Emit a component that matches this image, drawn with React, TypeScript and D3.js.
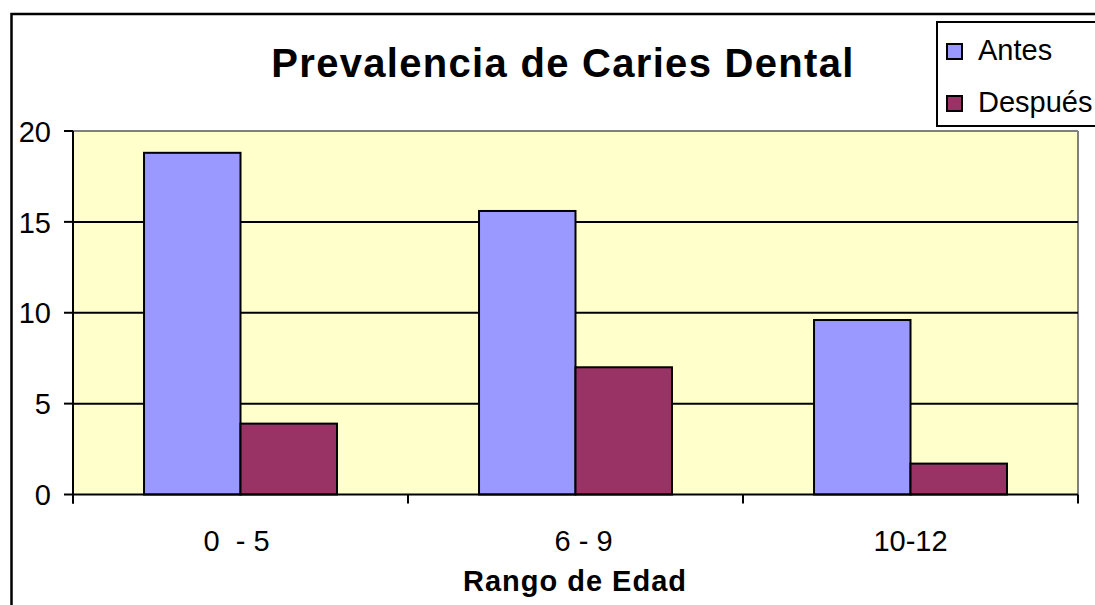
import React from "react";
import * as d3 from "d3";

const categories = ["0  - 5 ", "  6 - 9", "10-12"];
const antes = [18.8, 15.6, 9.6];
const despues = [3.9, 7.0, 1.7];
const seriesNames = ["Antes", "Después"];
const yTicks = [0, 5, 10, 15, 20];
const colors = ["#9999FF", "#993366"];

export default function App() {
  const W = 1095, H = 605;
  const left = 73, right = 1078, top = 131, bottom = 494.5;
  const x = d3.scaleBand<string>().domain(categories).range([left, right]).paddingInner(0.424).paddingOuter(0.212);
  const xs = d3.scaleBand<string>().domain(seriesNames).range([0, x.bandwidth()]);
  const y = d3.scaleLinear().domain([0, 20]).range([bottom, top]);
  const step = x.step();
  const font = "'Liberation Sans', Arial, sans-serif";
  const series = [antes, despues];
  return (
    <svg width={W} height={H} style={{ position: "absolute", left: 0, top: 0, background: "#fff" }}>
      <rect x={left} y={top} width={right - left} height={bottom - top} fill="#FFFFCC" />
      <line x1={left} x2={right} y1={top} y2={top} stroke="#808080" strokeWidth={2} />
      <line x1={right} x2={right} y1={top} y2={bottom} stroke="#808080" strokeWidth={2} />
      {yTicks.filter(t => t > 0 && t < 20).map(t => (
        <line key={t} x1={left} x2={right} y1={y(t)} y2={y(t)} stroke="#000" strokeWidth={2} />
      ))}
      {categories.map((c, i) =>
        series.map((s, j) => (
          <rect key={c + j} x={(x(c) as number) + (xs(seriesNames[j]) as number)} y={y(s[i])}
            width={xs.bandwidth()} height={bottom - y(s[i])} fill={colors[j]} stroke="#000" strokeWidth={2} />
        ))
      )}
      <line x1={left} x2={left} y1={top} y2={bottom + 9} stroke="#000" strokeWidth={2} />
      <line x1={left} x2={right} y1={bottom} y2={bottom} stroke="#000" strokeWidth={2} />
      {yTicks.map(t => (
        <g key={t}>
          <line x1={left - 9} x2={left} y1={y(t)} y2={y(t)} stroke="#000" strokeWidth={2} />
          <text x={51} y={y(t)} dy="0.37em" textAnchor="end" fontFamily={font} fontSize={29}>{t}</text>
        </g>
      ))}
      {d3.range(categories.length + 1).map(i => (
        <line key={i} x1={left + i * step} x2={left + i * step} y1={bottom} y2={bottom + 9} stroke="#000" strokeWidth={2} />
      ))}
      {categories.map(c => (
        <text key={c} x={(x(c) as number) + x.bandwidth() / 2} y={551} textAnchor="middle" fontFamily={font} fontSize={29} style={{ whiteSpace: "pre" }}>{c}</text>
      ))}
      <text x={575} y={591} textAnchor="middle" fontFamily={font} fontSize={29} fontWeight="bold" letterSpacing={1}>Rango de Edad</text>
      <text x={563} y={77} textAnchor="middle" fontFamily={font} fontSize={40} fontWeight="bold" letterSpacing={1.3}>Prevalencia de Caries Dental</text>
      <rect x={11.5} y={14} width={1200} height={700} fill="none" stroke="#000" strokeWidth={2.5} />
      <rect x={937} y={22} width={200} height={104} fill="#fff" stroke="#000" strokeWidth={2} />
      {seriesNames.map((n, j) => (
        <g key={n}>
          <rect x={947} y={44 + j * 52} width={15} height={15} fill={colors[j]} stroke="#000" strokeWidth={2} />
          <text x={978} y={60 + j * 52} fontFamily={font} fontSize={29}>{n}</text>
        </g>
      ))}
    </svg>
  );
}
